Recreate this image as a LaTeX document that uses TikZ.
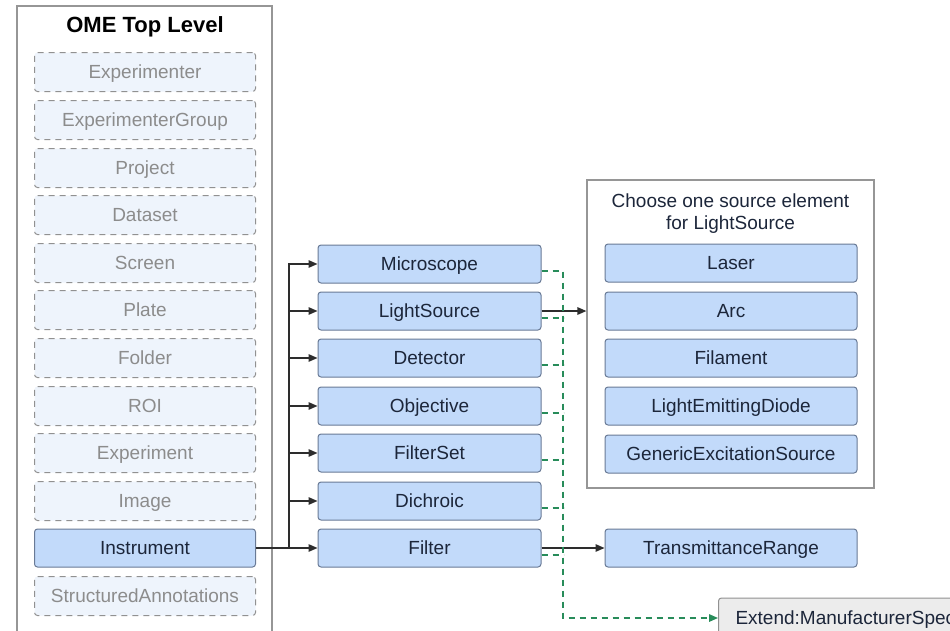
\documentclass[tikz,border=0pt]{standalone}
\usepackage{fontspec}
\setmainfont{Liberation Sans}
\usetikzlibrary{arrows.meta,positioning}
\definecolor{bluefill}{RGB}{194,218,250}
\definecolor{blueedge}{RGB}{105,122,150}
\definecolor{darktext}{RGB}{28,38,58}
\definecolor{ghostfill}{RGB}{238,244,252}
\definecolor{ghostedge}{RGB}{145,145,145}
\definecolor{ghosttext}{RGB}{140,140,140}
\definecolor{frameedge}{RGB}{150,150,150}
\definecolor{linkgray}{RGB}{45,45,45}
\definecolor{extgreen}{RGB}{40,140,90}
\definecolor{extfill}{RGB}{236,236,236}
\tikzset{
  txt/.style={font=\fontsize{19}{22}\selectfont},
  boxtxt/.style={txt, text height=13.6pt, text depth=0pt},
  ghostbox/.style={boxtxt, draw=ghostedge, fill=ghostfill, text=ghosttext, dash pattern=on 6pt off 5pt,
    line width=1pt, rounded corners=3pt, minimum width=221pt, minimum height=39pt, inner sep=0pt},
  bluebox/.style={boxtxt, draw=blueedge, fill=bluefill, text=darktext, line width=1pt,
    rounded corners=3pt, minimum height=38pt, inner sep=0pt},
  midbox/.style={bluebox, minimum width=223pt},
  rightbox/.style={bluebox, minimum width=252pt},
  framebox/.style={draw=frameedge, line width=1.2pt, fill=white, inner sep=0pt},
  link/.style={draw=linkgray, line width=1.4pt, -{Triangle[length=9pt,width=7.5pt]}},
  extlink/.style={draw=extgreen, line width=1.5pt, dash pattern=on 6pt off 5pt},
}
\begin{document}
\begin{tikzpicture}[x=1pt,y=-1pt]
\useasboundingbox (0,0) rectangle (950,630);
\clip (0,0) rectangle (950,630);
\fill[white] (0,0) rectangle (950,630);

% left frame
\node[framebox, minimum width=255pt, minimum height=640pt] (topframe) at (144.5,326) {};
\node[font=\fontsize{22}{24}\selectfont\bfseries, text=black] (toptitle) at (145,27) {OME Top Level};

\node[ghostbox] (experimenter) at (145,72) {Experimenter};
\node[ghostbox] (expgroup) at (145,120) {ExperimenterGroup};
\node[ghostbox] (project) at (145,168) {Project};
\node[ghostbox] (dataset) at (145,215) {Dataset};
\node[ghostbox] (screen) at (145,263) {Screen};
\node[ghostbox] (plate) at (145,310) {Plate};
\node[ghostbox] (folder) at (145,358) {Folder};
\node[ghostbox] (roi) at (145,406) {ROI};
\node[ghostbox] (experiment) at (145,453) {Experiment};
\node[ghostbox] (image) at (145,501) {Image};
\node[bluebox, minimum width=221pt] (instrument) at (145,548) {Instrument};
\node[ghostbox] (sannot) at (145,596) {StructuredAnnotations};

% middle column
\node[midbox] (microscope) at (429.5,264) {Microscope};
\node[midbox] (lightsource) at (429.5,311) {LightSource};
\node[midbox] (detector) at (429.5,358) {Detector};
\node[midbox] (objective) at (429.5,406) {Objective};
\node[midbox] (filterset) at (429.5,453) {FilterSet};
\node[midbox] (dichroic) at (429.5,501) {Dichroic};
\node[midbox] (filter) at (429.5,548) {Filter};

% right group
\node[framebox, minimum width=287pt, minimum height=308pt] (choose) at (730.5,334) {};
\node[txt, text=darktext, align=center] (choosetitle) at (730.5,214) {Choose one source element\\for LightSource};
\node[rightbox] (laser) at (731,263) {Laser};
\node[rightbox] (arc) at (731,311) {Arc};
\node[rightbox] (filament) at (731,358) {Filament};
\node[rightbox] (led) at (731,406) {LightEmittingDiode};
\node[rightbox] (generic) at (731,454) {GenericExcitationSource};

\node[rightbox] (transrange) at (731,548) {TransmittanceRange};

\node[boxtxt, draw=ghostedge, fill=extfill, text=darktext, line width=1pt, rounded corners=3pt,
  minimum height=40pt, anchor=west, inner xsep=17pt, inner ysep=0pt] (extend) at (718,618) {Extend:ManufacturerSpec};

% black tree connectors
\coordinate (trunk) at (289,548);
\draw[link] (instrument.east) -- (filter.west);
\draw[link] (trunk) |- (microscope.west);
\foreach \m in {lightsource,detector,objective,filterset,dichroic}{
  \draw[link] (trunk |- \m.west) -- (\m.west);
}
\draw[link] (lightsource.east) -- (lightsource.east -| choose.west);
\draw[link] (filter.east) -- (transrange.west);

% green extension connectors
\coordinate (gbot) at (563,618);
\draw[extlink, -{Triangle[length=9pt,width=7.5pt]}] ([yshift=-7pt]microscope.east) -| (gbot) -- (extend.west);
\foreach \m in {lightsource,detector,objective,filterset,dichroic,filter}{
  \draw[extlink] ([yshift=-7pt]\m.east) -- +(22pt,0);
}
\end{tikzpicture}
\end{document}
